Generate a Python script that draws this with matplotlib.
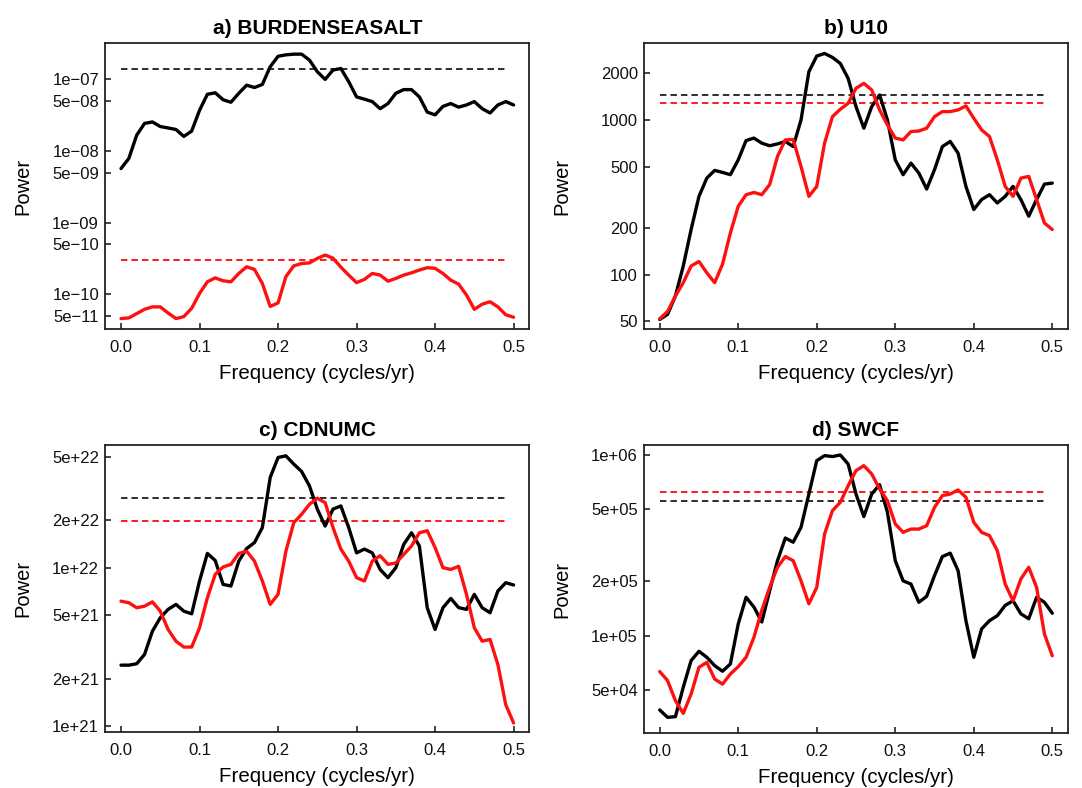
import matplotlib
matplotlib.use("Agg")
import matplotlib.pyplot as plt
import numpy as np

plt.rcParams["font.family"] = ["Liberation Sans", "DejaVu Sans"]

freq = np.linspace(0.0, 0.5, 51)

burden_black = [5.7e-9, 7.9e-9, 1.67e-8, 2.43e-8, 2.55e-8, 2.2e-8, 2.1e-8, 2.0e-8, 1.6e-8, 1.9e-8,
                3.7e-8, 6.2e-8, 6.5e-8, 5.2e-8, 4.8e-8, 6.4e-8, 8.3e-8, 7.7e-8, 8.5e-8, 1.5e-7,
                2.1e-7, 2.2e-7, 2.25e-7, 2.25e-7, 1.86e-7, 1.28e-7, 1.0e-7, 1.35e-7, 1.42e-7, 9.3e-8,
                5.7e-8, 5.3e-8, 4.9e-8, 3.9e-8, 4.6e-8, 6.4e-8, 7.2e-8, 7.2e-8, 5.7e-8, 3.5e-8,
                3.2e-8, 4.2e-8, 4.6e-8, 4.1e-8, 4.4e-8, 4.9e-8, 3.9e-8, 3.4e-8, 4.4e-8, 4.9e-8, 4.4e-8]
burden_red = [4.6e-11, 4.7e-11, 5.4e-11, 6.2e-11, 6.7e-11, 6.7e-11, 5.5e-11, 4.6e-11, 4.9e-11, 6.4e-11,
              1.03e-10, 1.5e-10, 1.7e-10, 1.55e-10, 1.5e-10, 1.96e-10, 2.43e-10, 2.23e-10, 1.42e-10, 6.8e-11,
              7.6e-11, 1.77e-10, 2.5e-10, 2.7e-10, 2.75e-10, 3.18e-10, 3.54e-10, 3.2e-10, 2.4e-10, 1.86e-10,
              1.46e-10, 1.62e-10, 1.96e-10, 1.86e-10, 1.53e-10, 1.67e-10, 1.86e-10, 2.0e-10, 2.19e-10, 2.36e-10,
              2.31e-10, 1.96e-10, 1.58e-10, 1.39e-10, 0.98e-10, 6.2e-11, 7.3e-11, 7.9e-11, 6.7e-11, 5.2e-11, 4.8e-11]

u10_black = [51.5, 55.6, 73, 114, 196, 321, 421, 472, 458, 443,
             552, 736, 763, 708, 681, 700, 726, 673, 1000, 2047,
             2583, 2685, 2531, 2315, 1853, 1218, 884, 1218, 1449, 1000,
             552, 443, 526, 454, 358, 477, 673, 726, 610, 372,
             264, 306, 329, 291, 321, 372, 306, 239, 306, 385, 391]
u10_red = [52, 58, 73, 89, 114, 122, 103, 89, 117, 186,
           277, 329, 340, 329, 382, 581, 743, 747, 500, 321,
           372, 708, 1050, 1171, 1280, 1600, 1722, 1560, 1160, 929,
           763, 743, 841, 848, 884, 1050, 1131, 1131, 1160, 1231,
           1025, 862, 781, 552, 372, 321, 421, 432, 306, 216, 196]

cdnumc_black = [2.43e21, 2.43e21, 2.48e21, 2.84e21, 3.98e21, 4.83e21, 5.46e21, 5.87e21, 5.32e21, 5.12e21,
                8.24e21, 1.23e22, 1.11e22, 7.85e21, 7.66e21, 1.10e22, 1.32e22, 1.44e22, 1.79e22, 3.70e22,
                4.95e22, 5.07e22, 4.50e22, 4.04e22, 3.28e22, 2.34e22, 1.83e22, 2.34e22, 2.45e22, 1.79e22,
                1.24e22, 1.31e22, 1.24e22, 9.75e21, 8.65e21, 1.0e22, 1.40e22, 1.66e22, 1.37e22, 5.59e21,
                4.08e21, 5.59e21, 6.40e21, 5.6e21, 5.46e21, 6.79e21, 5.59e21, 5.20e21, 7.13e21, 8.04e21, 7.78e21]
cdnumc_red = [6.15e21, 6.01e21, 5.59e21, 5.72e21, 6.09e21, 5.32e21, 4.08e21, 3.44e21, 3.16e21, 3.16e21,
              4.18e21, 6.47e21, 9.07e21, 1.01e22, 1.05e22, 1.23e22, 1.27e22, 1.10e22, 8.24e21, 5.87e21,
              6.79e21, 1.27e22, 1.92e22, 2.17e22, 2.51e22, 2.74e22, 2.57e22, 1.79e22, 1.31e22, 1.10e22,
              8.65e21, 8.24e21, 1.10e22, 1.19e22, 1.05e22, 1.07e22, 1.21e22, 1.37e22, 1.66e22, 1.71e22,
              1.34e22, 1.0e22, 9.75e21, 1.02e22, 6.79e21, 4.18e21, 3.44e21, 3.53e21, 2.45e21, 1.37e21, 1.05e21]

swcf_black = [3.88e4, 3.53e4, 3.56e4, 5.18e4, 7.28e4, 8.19e4, 7.59e4, 6.82e4, 6.35e4, 6.97e4,
              1.16e5, 1.63e5, 1.44e5, 1.19e5, 1.77e5, 2.60e5, 3.47e5, 3.29e5, 3.98e5, 6.08e5,
              9.30e5, 9.92e5, 9.8e5, 1.0e6, 8.91e5, 6.08e5, 4.56e5, 6.08e5, 6.85e5, 4.82e5,
              2.60e5, 2.01e5, 1.93e5, 1.53e5, 1.65e5, 2.15e5, 2.74e5, 2.86e5, 2.29e5, 1.21e5,
              7.59e4, 1.09e5, 1.21e5, 1.29e5, 1.47e5, 1.56e5, 1.32e5, 1.24e5, 1.63e5, 1.53e5, 1.33e5]
swcf_red = [6.33e4, 5.64e4, 4.37e4, 3.71e4, 4.75e4, 6.68e4, 7.11e4, 5.75e4, 5.39e4, 6.13e4,
            6.73e4, 7.59e4, 9.79e4, 1.38e5, 1.85e5, 2.39e5, 2.74e5, 2.60e5, 2.01e5, 1.50e5,
            1.85e5, 3.66e5, 4.92e5, 5.47e5, 6.76e5, 8.19e5, 8.73e5, 7.85e5, 6.49e5, 5.59e5,
            4.15e5, 3.73e5, 3.89e5, 3.89e5, 4.06e5, 5.13e5, 5.96e5, 6.08e5, 6.40e5, 5.83e5,
            4.24e5, 3.73e5, 3.58e5, 2.95e5, 1.93e5, 1.56e5, 2.06e5, 2.39e5, 1.85e5, 1.02e5, 7.74e4]

# significance levels (black, red)
burden_sig = [1.40e-7, 3.0e-10]
u10_sig = [1449, 1294]
cdnumc_sig = [2.73e22, 1.98e22]
swcf_sig = [5.59e5, 6.21e5]

burden_ticks = [1e-7, 5e-8, 1e-8, 5e-9, 1e-9, 5e-10, 1e-10, 5e-11]
burden_labels = ["1e\u221207", "5e\u221208", "1e\u221208", "5e\u221209",
                 "1e\u221209", "5e\u221210", "1e\u221210", "5e\u221211"]
u10_ticks = [2000, 1000, 500, 200, 100, 50]
u10_labels = ["2000", "1000", "500", "200", "100", "50"]
cdnumc_ticks = [5e22, 2e22, 1e22, 5e21, 2e21, 1e21]
cdnumc_labels = ["5e+22", "2e+22", "1e+22", "5e+21", "2e+21", "1e+21"]
swcf_ticks = [1e6, 5e5, 2e5, 1e5, 5e4]
swcf_labels = ["1e+06", "5e+05", "2e+05", "1e+05", "5e+04"]
freq_ticks = [0.0, 0.1, 0.2, 0.3, 0.4, 0.5]
freq_labels = ["0.0", "0.1", "0.2", "0.3", "0.4", "0.5"]

# axes boxes in pixels: left, top, right, bottom
panels = [
    ("a) BURDENSEASALT", burden_black, burden_red, burden_sig, burden_ticks, burden_labels,
     (3.26e-11, 3.25e-7), [105.3, 42.7, 529.3, 329.3]),
    ("b) U10", u10_black, u10_red, u10_sig, u10_ticks, u10_labels,
     (44.5, 3150), [644, 42.7, 1068, 329.3]),
    ("c) CDNUMC", cdnumc_black, cdnumc_red, cdnumc_sig, cdnumc_ticks, cdnumc_labels,
     (9.17e20, 5.96e22), [105.3, 444.7, 529.3, 732.3]),
    ("d) SWCF", swcf_black, swcf_red, swcf_sig, swcf_ticks, swcf_labels,
     (2.88e4, 1.14e6), [644, 444.7, 1068, 733.3]),
]

W, H = 1082, 788
fig = plt.figure(figsize=(W / 100, H / 100), dpi=100)

for title, black, red, sig, yticks, ylabels, ylim, box in panels:
    x0, y0, x1, y1 = box
    ax = fig.add_axes([x0 / W, 1 - y1 / H, (x1 - x0) / W, (y1 - y0) / H])
    ax.set_yscale("log")
    ax.hlines(sig[0], freq[0], freq[-2], colors="#333333", linestyles=(0, (3.2, 2.0)), lw=1.45)
    ax.hlines(sig[1], freq[0], freq[-2], colors="#ff2020", linestyles=(0, (3.2, 2.0)), lw=1.45)
    ax.plot(freq, black, color="black", lw=2.4, solid_joinstyle="round", solid_capstyle="round")
    ax.plot(freq, red, color="#ff1010", lw=2.4, solid_joinstyle="round", solid_capstyle="round")
    ax.set_xlim(-0.02, 0.52)
    ax.set_ylim(*ylim)
    ax.set_xticks(freq_ticks, freq_labels)
    ax.set_yticks(yticks, ylabels)
    ax.minorticks_off()
    ax.tick_params(direction="in", length=4.1, width=1.1, labelsize=12, colors="#111111")
    ax.tick_params(axis="x", pad=8)
    ax.tick_params(axis="y", pad=4.5)
    for sp in ax.spines.values():
        sp.set_linewidth(1.3)
        sp.set_color("#222222")
    ax.set_title(title, fontsize=15, fontweight="bold", pad=6.5)
    ax.set_xlabel("Frequency (cycles/yr)", fontsize=14.8, labelpad=6)
    ax.set_ylabel("Power", fontsize=14.5, va="center")
    ax.yaxis.set_label_coords(-82.0 / (x1 - x0), 0.5)

fig.savefig("out.png", dpi=100)
